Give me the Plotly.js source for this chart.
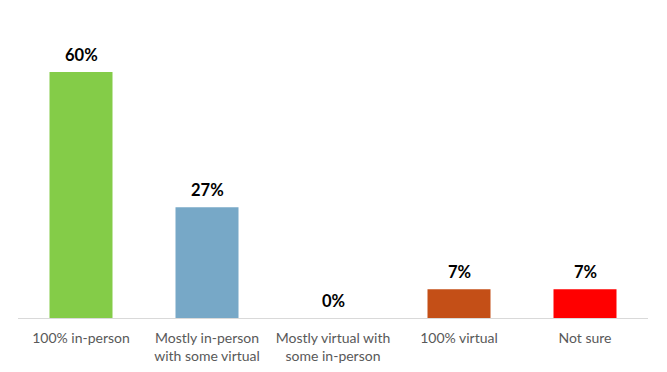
<!DOCTYPE html>
<html><head><meta charset="utf-8">
<script src="https://cdn.plot.ly/plotly-3.0.1.min.js"></script>
<style>html,body{margin:0;padding:0;background:#fff}#chart{width:667px;height:372px}</style>
</head><body><div id="chart"></div>
<script>
const categories = ["100% in-person", "Mostly in-person<br>with some virtual", "Mostly virtual with<br>some in-person", "100% virtual", "Not sure"];
const values = [60, 27, 0, 7, 7];
const labels = ["60%", "27%", "0%", "7%", "7%"];
const colors = ["#84CC48", "#77A8C7", "#FFFFFF", "#C44F17", "#FF0000"];

const annotations = categories.map((c, i) => ({
  x: c, y: values[i], xref: "x", yref: "y",
  text: labels[i], showarrow: false,
  yanchor: "bottom", yshift: 5,
  font: {family: "Lato, sans-serif", size: 16.5, color: "#000", weight: "bold"}
}));

Plotly.newPlot("chart", [{
  type: "bar",
  x: categories,
  y: values,
  marker: {color: colors},
  width: 0.5,
  hoverinfo: "none"
}], {
  width: 667, height: 372,
  margin: {l: 18, r: 19, t: 31, b: 54},
  paper_bgcolor: "#fff", plot_bgcolor: "#fff",
  showlegend: false,
  annotations: annotations,
  xaxis: {
    showline: true, linecolor: "#D9D9D9", linewidth: 1,
    tickfont: {family: "Lato, sans-serif", size: 14, color: "#595959"},
    ticklabelstandoff: 7,
    ticks: "", showgrid: false, zeroline: false, fixedrange: true
  },
  yaxis: {
    range: [0, 70], visible: false, showgrid: false, zeroline: false
  }
}, {staticPlot: true});
</script></body></html>
